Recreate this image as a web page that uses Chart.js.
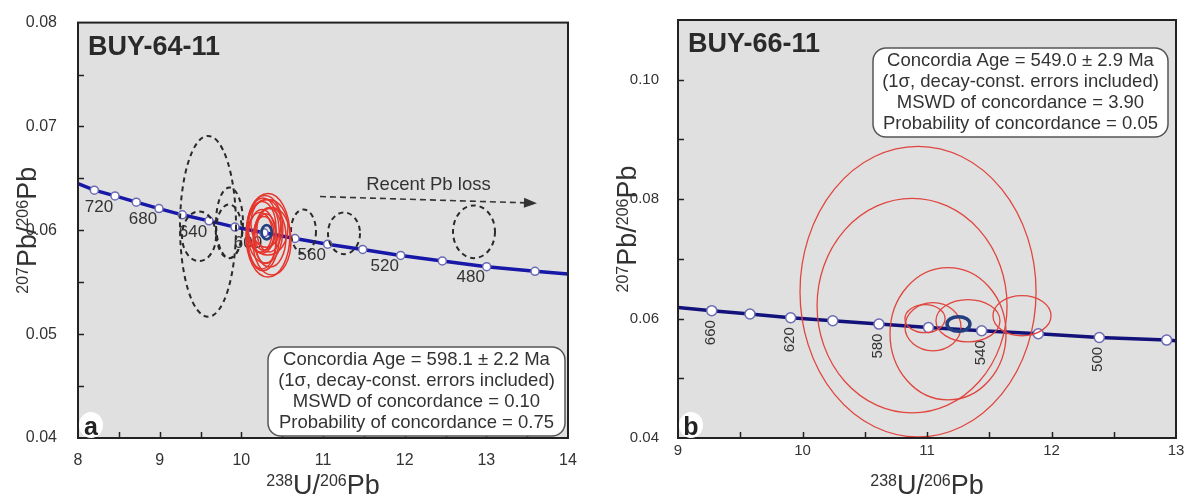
<!DOCTYPE html>
<html>
<head>
<meta charset="utf-8">
<script src="https://cdn.jsdelivr.net/npm/chart.js@4.4.1/dist/chart.umd.min.js"></script>
<style>
  html, body { margin: 0; padding: 0; background: #fff; }
  #wrap { position: relative; width: 1191px; height: 497px; }
  #wrap canvas { position: absolute; top: 0; }
  #chartA { left: 0; }
  #chartB { left: 600px; }
</style>
</head>
<body>
<div id="wrap">
  <canvas id="chartA" width="600" height="497"></canvas>
  <canvas id="chartB" width="591" height="497"></canvas>
</div>
<script>
// ---------- BUY-64-11 ----------
const agesA   = [740, 720, 700, 680, 660, 640, 620, 600, 580, 560, 540, 520, 500, 480, 460];
const concA_x = [8.20, 8.453, 8.714, 8.992, 9.277, 9.604, 9.922, 10.277, 10.657, 11.057, 11.486, 11.951, 12.461, 13.004, 13.596];
const concA_y = [0.06386, 0.06331, 0.06271, 0.06209, 0.06149, 0.06091, 0.06031, 0.05976, 0.05921, 0.05866, 0.05816, 0.05758, 0.05705, 0.05650, 0.05605];
const edgeA_x = [8.0, 14.0];
const edgeA_y = [0.0645, 0.05579];
const labelAgesA = [720, 680, 640, 600, 560, 520, 480];

// analyses used in the concordia age (red) and rejected ones (dashed)
const redA_x  = [10.326, 10.289, 10.253, 10.351, 10.229, 10.302, 10.375, 10.277, 10.326, 10.253, 10.340, 10.265, 10.300];
const redA_y  = [0.05952, 0.06010, 0.06029, 0.05933, 0.05981, 0.06067, 0.05895, 0.05971, 0.06029, 0.05914, 0.06000, 0.05960, 0.05920];
const redA_sx = [0.269, 0.220, 0.171, 0.196, 0.147, 0.184, 0.233, 0.122, 0.245, 0.171, 0.150, 0.200, 0.135];
const redA_sy = [0.00402, 0.00325, 0.00249, 0.00287, 0.00191, 0.00230, 0.00325, 0.00163, 0.00268, 0.00287, 0.00210, 0.00350, 0.00240];

const dashA_x  = [9.592, 9.855, 9.482, 9.849, 10.761, 11.257, 12.849];
const dashA_y  = [0.06038, 0.06072, 0.05943, 0.05990, 0.05990, 0.05971, 0.05986];
const dashA_sx = [0.343, 0.165, 0.208, 0.159, 0.153, 0.196, 0.257];
const dashA_sy = [0.00871, 0.00340, 0.00239, 0.00258, 0.00211, 0.00201, 0.00254];

const ageA = [10.310, 0.05981, 0.062, 0.00068];   // x, y, sx, sy
const lossArrow_x = [10.963, 13.620];
const lossArrow_y = [0.06325, 0.06261];

const statsA = ['Concordia Age = 598.1 \u00b1 2.2 Ma', '(1\u03c3, decay-const. errors included)',
                'MSWD of concordance = 0.10', 'Probability of concordance = 0.75'];

// ---------- BUY-66-11 ----------
const agesB   = [660, 640, 620, 600, 580, 560, 540, 520, 500, 480];
const concB_x = [9.271, 9.578, 9.905, 10.243, 10.614, 11.012, 11.439, 11.894, 12.384, 12.925];
const concB_y = [0.06132, 0.06076, 0.06014, 0.05964, 0.05908, 0.05851, 0.05796, 0.05746, 0.05684, 0.05640];
const edgeB_x = [9.0, 13.0];
const edgeB_y = [0.06187, 0.05628];
const labelAgesB = [660, 620, 580, 540, 500];

const redB_x  = [10.928, 10.880, 11.169, 11.048, 10.984, 11.329, 11.763];
const redB_y  = [0.06451, 0.06216, 0.05746, 0.05863, 0.05998, 0.05964, 0.06048];
const redB_sx = [0.948, 0.763, 0.466, 0.225, 0.161, 0.257, 0.233];
const redB_sy = [0.02434, 0.01796, 0.01108, 0.00403, 0.00235, 0.00353, 0.00336];

const ageB = [11.253, 0.05909, 0.092, 0.00123];

const statsB = ['Concordia Age = 549.0 \u00b1 2.9 Ma', '(1\u03c3, decay-const. errors included)',
                'MSWD of concordance = 3.90', 'Probability of concordance = 0.05'];

const FONT = '"Liberation Sans", Arial, Helvetica, sans-serif';
const INK = '#333';

// text with superscript pieces, centred on x
function drawParts(ctx, parts, x, y, big, small) {
  let w = 0;
  parts.forEach(([t, sup]) => { ctx.font = (sup ? small : big) + 'px ' + FONT; w += ctx.measureText(t).width; });
  let cx = x - w / 2;
  ctx.textAlign = 'left';
  ctx.textBaseline = 'alphabetic';
  parts.forEach(([t, sup]) => {
    ctx.font = (sup ? small : big) + 'px ' + FONT;
    ctx.fillText(t, cx, sup ? y - big * 0.3 : y);
    cx += ctx.measureText(t).width;
  });
}

function strokeEllipses(ctx, xs, ys, cx, cy, sx, sy, color, width, dash) {
  ctx.save();
  ctx.strokeStyle = color;
  ctx.lineWidth = width;
  ctx.setLineDash(dash || []);
  for (let i = 0; i < cx.length; i++) {
    const px = xs.getPixelForValue(cx[i]);
    const py = ys.getPixelForValue(cy[i]);
    const rx = Math.abs(xs.getPixelForValue(cx[i] + sx[i]) - px);
    const ry = Math.abs(ys.getPixelForValue(cy[i] + sy[i]) - py);
    ctx.beginPath();
    ctx.ellipse(px, py, rx, ry, 0, 0, Math.PI * 2);
    ctx.stroke();
  }
  ctx.restore();
}

function makeDecor(cfg) {
  return {
    id: 'decor',
    beforeDatasetsDraw(chart) {
      const { ctx, chartArea: a } = chart;
      ctx.save();
      ctx.fillStyle = '#e0e0e0';
      ctx.fillRect(a.left, a.top, a.right - a.left, a.bottom - a.top);
      ctx.restore();
    },
    afterDatasetsDraw(chart) {
      const { ctx, chartArea: a, scales } = chart;
      const xs = scales.x, ys = scales.y;
      ctx.save();
      ctx.beginPath();
      ctx.rect(a.left, a.top, a.right - a.left, a.bottom - a.top);
      ctx.clip();

      // age labels along the concordia
      ctx.fillStyle = INK;
      ctx.font = cfg.ageFont + 'px ' + FONT;
      ctx.textAlign = 'center';
      ctx.textBaseline = 'middle';
      cfg.labelAges.forEach(age => {
        const i = cfg.ages.indexOf(age);
        const px = xs.getPixelForValue(cfg.cx[i]) + cfg.ageDx;
        const py = ys.getPixelForValue(cfg.cy[i]) + cfg.ageDy;
        if (cfg.ageRotate) {
          ctx.save();
          ctx.translate(px, py);
          ctx.rotate(-Math.PI / 2);
          ctx.fillText(String(age), 0, 0);
          ctx.restore();
        } else {
          ctx.fillText(String(age), px, py);
        }
      });

      cfg.ellipses.forEach(e => strokeEllipses(ctx, xs, ys, e.x, e.y, e.sx, e.sy, e.color, e.width, e.dash));

      // concordia age ellipse
      const g = cfg.age;
      strokeEllipses(ctx, xs, ys, [g[0]], [g[1]], [g[2]], [g[3]], '#233f80', cfg.ageWidth);

      if (cfg.arrow) {
        const x1 = xs.getPixelForValue(cfg.arrow.x[0]), y1 = ys.getPixelForValue(cfg.arrow.y[0]);
        const x2 = xs.getPixelForValue(cfg.arrow.x[1]), y2 = ys.getPixelForValue(cfg.arrow.y[1]);
        const ang = Math.atan2(y2 - y1, x2 - x1);
        ctx.strokeStyle = INK;
        ctx.fillStyle = INK;
        ctx.lineWidth = 1.6;
        ctx.setLineDash([6, 4]);
        ctx.beginPath();
        ctx.moveTo(x1, y1);
        ctx.lineTo(x2 - 10 * Math.cos(ang), y2 - 10 * Math.sin(ang));
        ctx.stroke();
        ctx.setLineDash([]);
        ctx.beginPath();
        ctx.moveTo(x2, y2);
        ctx.lineTo(x2 - 13 * Math.cos(ang) + 5 * Math.sin(ang), y2 - 13 * Math.sin(ang) - 5 * Math.cos(ang));
        ctx.lineTo(x2 - 13 * Math.cos(ang) - 5 * Math.sin(ang), y2 - 13 * Math.sin(ang) + 5 * Math.cos(ang));
        ctx.closePath();
        ctx.fill();
        ctx.font = '18.5px ' + FONT;
        ctx.textAlign = 'center';
        ctx.textBaseline = 'middle';
        ctx.fillText(cfg.arrow.text, (x1 + x2) / 2, (y1 + y2) / 2 - 15);
      }
      ctx.restore();
    },
    afterDraw(chart) {
      const { ctx, chartArea: a, scales } = chart;
      ctx.save();

      // inward ticks
      ctx.strokeStyle = '#222';
      ctx.lineWidth = 1.5;
      ctx.beginPath();
      scales.x.ticks.forEach(t => {
        if (t.value <= scales.x.min || t.value >= scales.x.max) return;
        const px = Math.round(scales.x.getPixelForValue(t.value)) + 0.5;
        ctx.moveTo(px, a.bottom);
        ctx.lineTo(px, a.bottom - 6);
      });
      scales.y.ticks.forEach(t => {
        if (t.value <= scales.y.min + 1e-9 || t.value >= scales.y.max - 1e-9) return;
        const py = Math.round(scales.y.getPixelForValue(t.value)) + 0.5;
        ctx.moveTo(a.left, py);
        ctx.lineTo(a.left + 6, py);
      });
      ctx.stroke();

      // frame
      ctx.lineWidth = 2;
      ctx.strokeRect(a.left, a.top, a.right - a.left, a.bottom - a.top);

      // sample name
      ctx.fillStyle = '#2a2a2a';
      ctx.font = 'bold 27px ' + FONT;
      ctx.textAlign = 'left';
      ctx.textBaseline = 'alphabetic';
      ctx.fillText(cfg.name, a.left + 10, a.top + 32);

      // panel letter
      ctx.fillStyle = '#fff';
      ctx.beginPath();
      ctx.ellipse(a.left + 13, a.bottom - 13, 12, 13, 0, 0, Math.PI * 2);
      ctx.fill();
      ctx.fillStyle = '#222';
      ctx.font = 'bold 25px ' + FONT;
      ctx.textAlign = 'center';
      ctx.fillText(cfg.letter, a.left + 13, a.bottom - 3);

      // statistics box
      const b = cfg.box;
      ctx.fillStyle = '#fff';
      ctx.strokeStyle = '#555';
      ctx.lineWidth = 1.5;
      ctx.beginPath();
      ctx.roundRect(b.l, b.t, b.r - b.l, b.b - b.t, 13);
      ctx.fill();
      ctx.stroke();
      ctx.fillStyle = INK;
      ctx.font = '18.5px ' + FONT;
      ctx.textAlign = 'center';
      ctx.textBaseline = 'middle';
      cfg.stats.forEach((s, i) => ctx.fillText(s, (b.l + b.r) / 2, b.t + 13 + i * 21));

      // axis titles
      ctx.fillStyle = INK;
      drawParts(ctx, [['238', true], ['U/', false], ['206', true], ['Pb', false]],
                (a.left + a.right) / 2, 494, 27, 16);
      ctx.save();
      ctx.translate(36, (a.top + a.bottom) / 2);
      ctx.rotate(-Math.PI / 2);
      drawParts(ctx, [['207', true], ['Pb/', false], ['206', true], ['Pb', false]], 0, 0, 27, 16);
      ctx.restore();

      ctx.restore();
    }
  };
}

function onStep(v, step) {
  return Math.abs(v / step - Math.round(v / step)) < 1e-6;
}

function makeChart(id, cfg) {
  const line = [{ x: cfg.edgeX[0], y: cfg.edgeY[0] }]
    .concat(cfg.cx.map((x, i) => ({ x, y: cfg.cy[i] })))
    .concat([{ x: cfg.edgeX[1], y: cfg.edgeY[1] }]);
  const marks = cfg.cx.map((x, i) => ({ x, y: cfg.cy[i] }));

  return new Chart(document.getElementById(id), {
    type: 'scatter',
    data: {
      datasets: [
        { data: line, showLine: true, borderColor: cfg.lineColor, borderWidth: 3.5, pointRadius: 0, order: 2 },
        { data: marks, showLine: false, pointRadius: cfg.markRadius, pointBackgroundColor: '#fff',
          pointBorderColor: '#6a6ab4', pointBorderWidth: 1.5, order: 1 }
      ]
    },
    options: {
      responsive: false,
      animation: false,
      devicePixelRatio: 1,
      layout: { padding: { left: 0, right: cfg.padRight, top: 20, bottom: 0 } },
      plugins: { legend: { display: false }, tooltip: { enabled: false } },
      scales: {
        x: {
          min: cfg.xMin, max: cfg.xMax,
          grid: { display: false }, border: { display: false },
          afterFit: s => { s.height = 59; },
          ticks: {
            stepSize: 0.5, autoSkip: false, maxRotation: 0, padding: cfg.xPad,
            color: INK, font: { family: FONT, size: cfg.tickFont },
            callback: v => onStep(v, 1) ? String(Math.round(v)) : ''
          }
        },
        y: {
          min: cfg.yMin, max: cfg.yMax,
          grid: { display: false }, border: { display: false },
          afterFit: s => { s.width = 78; },
          ticks: {
            stepSize: cfg.yStep, autoSkip: false, padding: cfg.yPad,
            color: INK, font: { family: FONT, size: cfg.tickFont },
            callback: v => onStep(v, cfg.yLabelStep) ? v.toFixed(2) : ''
          }
        }
      }
    },
    plugins: [makeDecor(cfg)]
  });
}

makeChart('chartA', {
  name: 'BUY-64-11', letter: 'a',
  xMin: 8, xMax: 14, yMin: 0.04, yMax: 0.08, yStep: 0.005, yLabelStep: 0.01,
  padRight: 32, tickFont: 16, xPad: 5, yPad: 13,
  lineColor: '#1717a8', markRadius: 4,
  ages: agesA, cx: concA_x, cy: concA_y, edgeX: edgeA_x, edgeY: edgeA_y,
  labelAges: labelAgesA, ageFont: 17, ageDx: -16, ageDy: 11, ageRotate: false,
  ellipses: [
    { x: dashA_x, y: dashA_y, sx: dashA_sx, sy: dashA_sy, color: '#2a2a2a', width: 2, dash: [5, 4] },
    { x: redA_x, y: redA_y, sx: redA_sx, sy: redA_sy, color: '#e5362d', width: 1.5 }
  ],
  age: ageA, ageWidth: 2.8,
  arrow: { x: lossArrow_x, y: lossArrow_y, text: 'Recent Pb loss' },
  box: { l: 268, t: 347, r: 565, b: 436 },
  stats: statsA
});

makeChart('chartB', {
  name: 'BUY-66-11', letter: 'b',
  xMin: 9, xMax: 13, yMin: 0.04, yMax: 0.11, yStep: 0.01, yLabelStep: 0.02,
  padRight: 15, tickFont: 15, xPad: -4, yPad: 11,
  lineColor: '#12127a', markRadius: 5,
  ages: agesB, cx: concB_x, cy: concB_y, edgeX: edgeB_x, edgeY: edgeB_y,
  labelAges: labelAgesB, ageFont: 15, ageDx: -1, ageDy: 22, ageRotate: true,
  ellipses: [
    { x: redB_x, y: redB_y, sx: redB_sx, sy: redB_sy, color: '#e0463f', width: 1.3 }
  ],
  age: ageB, ageWidth: 3.5,
  arrow: null,
  box: { l: 273, t: 48, r: 568, b: 137 },
  stats: statsB
});
</script>
</body>
</html>
